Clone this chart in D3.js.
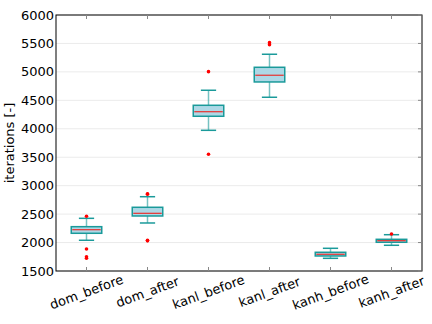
<!DOCTYPE html>
<html>
<head>
<meta charset="utf-8">
<script src="https://cdn.jsdelivr.net/npm/d3@7"></script>
<style>
  body { margin: 0; background: #fff; }
  svg text { font-family: "DejaVu Sans", sans-serif; }
</style>
</head>
<body>
<div id="chart"></div>
<script>
// categories + box stats
const categories = ["dom_before", "dom_after", "kanl_before", "kanl_after", "kanh_before", "kanh_after"];
const q1 =      [2163, 2467, 4220, 4823, 1764, 2005];
const median =  [2226, 2514, 4300, 4941, 1794, 2033];
const q3 =      [2279, 2620, 4413, 5081, 1829, 2057];
const whiskLo = [2040, 2344, 3973, 4554, 1723, 1952];
const whiskHi = [2426, 2806, 4677, 5310, 1899, 2138];
const outliers = [
    [2462, 1887, 1751, 1723],
    [2859, 2850, 2040, 2030],
    [5004, 3551],
    [5514, 5479],
    [],
    [2150]
];
const yTicks = [1500, 2000, 2500, 3000, 3500, 4000, 4500, 5000, 5500, 6000];

const width = 432;
const height = 324;
const margin = { top: 15, left: 56, right: 10, bottom: 53 };

const svg = d3.select("#chart")
    .append("svg")
    .attr("width", width)
    .attr("height", height);

const xScale = d3.scaleBand()
    .domain(categories)
    .range([margin.left, width - margin.right]);

const yScale = d3.scaleLinear()
    .domain([1500, 6000])
    .range([height - margin.bottom, margin.top]);

const x0 = margin.left, x1 = width - margin.right;
const y0 = height - margin.bottom, y1 = margin.top;

// grid
svg.append("g")
    .selectAll("line")
    .data(yTicks)
    .enter()
    .append("line")
    .attr("x1", x0).attr("x2", x1)
    .attr("y1", d => yScale(d)).attr("y2", d => yScale(d))
    .attr("stroke", "#ebebeb")
    .attr("stroke-width", 1);

const data = categories.map((c, i) => ({
    cat: c, q1: q1[i], med: median[i], q3: q3[i], lo: whiskLo[i], hi: whiskHi[i], out: outliers[i]
}));

const bw = xScale.bandwidth() * 0.5;
const capW = xScale.bandwidth() * 0.25;
const teal = "#1a9a9a";

const g = svg.selectAll(".box")
    .data(data)
    .enter()
    .append("g")
    .attr("class", "box")
    .attr("transform", d => `translate(${xScale(d.cat) + xScale.bandwidth() / 2},0)`);

// whisker stems
g.append("line")
    .attr("x1", 0).attr("x2", 0)
    .attr("y1", d => yScale(d.hi)).attr("y2", d => yScale(d.q3))
    .attr("stroke", teal).attr("stroke-opacity", 0.6).attr("stroke-width", 1.5);
g.append("line")
    .attr("x1", 0).attr("x2", 0)
    .attr("y1", d => yScale(d.q1)).attr("y2", d => yScale(d.lo))
    .attr("stroke", teal).attr("stroke-opacity", 0.6).attr("stroke-width", 1.5);

// caps
g.append("line")
    .attr("x1", -capW / 2).attr("x2", capW / 2)
    .attr("y1", d => yScale(d.hi)).attr("y2", d => yScale(d.hi))
    .attr("stroke", teal).attr("stroke-width", 1.5);
g.append("line")
    .attr("x1", -capW / 2).attr("x2", capW / 2)
    .attr("y1", d => yScale(d.lo)).attr("y2", d => yScale(d.lo))
    .attr("stroke", teal).attr("stroke-width", 1.5);

// box
g.append("rect")
    .attr("x", -bw / 2)
    .attr("width", bw)
    .attr("y", d => yScale(d.q3))
    .attr("height", d => yScale(d.q1) - yScale(d.q3))
    .attr("fill", "#add8e6")
    .attr("stroke", teal)
    .attr("stroke-width", 1.5);

// median
g.append("line")
    .attr("x1", -bw / 2 + 1).attr("x2", bw / 2 - 1)
    .attr("y1", d => yScale(d.med)).attr("y2", d => yScale(d.med))
    .attr("stroke", "#e8312f").attr("stroke-width", 1.2);

// fliers
g.selectAll("circle")
    .data(d => d.out)
    .enter()
    .append("circle")
    .attr("cx", 0)
    .attr("cy", d => yScale(d))
    .attr("r", 1.8)
    .attr("fill", "red");

// frame
svg.append("rect")
    .attr("x", x0).attr("y", y1)
    .attr("width", x1 - x0).attr("height", y0 - y1)
    .attr("fill", "none")
    .attr("stroke", "black")
    .attr("stroke-width", 1);

// inner ticks (bottom/top + right)
categories.forEach(c => {
    const cx = xScale(c) + xScale.bandwidth() / 2;
    svg.append("line").attr("x1", cx).attr("x2", cx).attr("y1", y0).attr("y2", y0 - 4)
        .attr("stroke", "#888");
    svg.append("line").attr("x1", cx).attr("x2", cx).attr("y1", y1).attr("y2", y1 + 4)
        .attr("stroke", "#888");
});
yTicks.forEach(t => {
    svg.append("line").attr("x1", x1).attr("x2", x1 - 4).attr("y1", yScale(t)).attr("y2", yScale(t))
        .attr("stroke", "#888");
});

// y tick labels
svg.append("g")
    .selectAll("text")
    .data(yTicks)
    .enter()
    .append("text")
    .attr("x", x0 - 2)
    .attr("y", d => yScale(d))
    .attr("dy", "0.35em")
    .attr("text-anchor", "end")
    .attr("font-size", 13)
    .attr("fill", "black")
    .text(d => d);

// x tick labels, rotated
svg.append("g")
    .selectAll("text")
    .data(categories)
    .enter()
    .append("text")
    .attr("transform", d => `translate(${xScale(d) + xScale.bandwidth() / 2},${y0 + 21}) rotate(-20)`)
    .attr("text-anchor", "middle")
    .attr("dy", "0.35em")
    .attr("font-size", 13)
    .attr("fill", "black")
    .text(d => d);

// y axis label
svg.append("text")
    .attr("transform", `translate(14,${(y0 + y1) / 2}) rotate(-90)`)
    .attr("text-anchor", "middle")
    .attr("font-size", 13)
    .attr("fill", "black")
    .text("iterations [-]");
</script>
</body>
</html>
